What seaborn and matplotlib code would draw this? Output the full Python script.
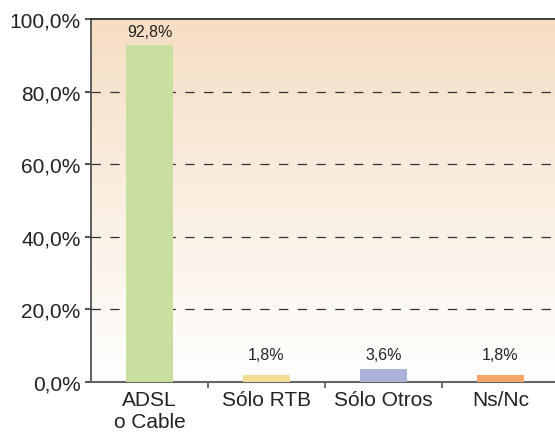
import numpy as np
import pandas as pd
import matplotlib
matplotlib.use("Agg")
import matplotlib.pyplot as plt
from matplotlib.colors import LinearSegmentedColormap
from matplotlib.ticker import FixedLocator
import seaborn as sns

categories = ["ADSL\no Cable", "Sólo RTB", "Sólo Otros", "Ns/Nc"]
values = [92.8, 1.8, 3.6, 1.8]
bar_colors = ["#C9DFA0", "#F2DC96", "#A9B3D9", "#F7A66A"]
y_ticks = [0, 20, 40, 60, 80, 100]


def pct(v):
    return f"{v:.1f}%".replace(".", ",")


def main():
    sns.set_style("white")
    plt.rcParams["font.family"] = ["Liberation Sans", "DejaVu Sans"]

    df = pd.DataFrame({"categoria": categories, "valor": values})

    fig = plt.figure(figsize=(5.55, 4.39), dpi=100)
    ax = fig.add_axes([0.164, 0.1276, 0.836, 0.8268])

    # background gradient, peach at the top fading to white
    cmap = LinearSegmentedColormap.from_list("bg", ["#FFFFFF", "#F5DEC3"])
    grad = np.linspace(0, 1, 256).reshape(-1, 1)
    ax.imshow(grad, extent=[-0.5, 3.466, 0, 100], origin="lower", cmap=cmap,
              aspect="auto", zorder=0)

    sns.barplot(data=df, x="categoria", y="valor", hue="categoria",
                palette=bar_colors, width=0.4, legend=False, ax=ax,
                saturation=1, linewidth=0, zorder=3)

    # value labels: small bars get their label lifted to a common height
    for i, v in enumerate(values):
        ax.text(i, max(v + 3.8, 7.7), pct(v), ha="center", va="center",
                fontsize=11.5, color="#222222", zorder=4)

    ax.set_xlim(-0.5, 3.466)
    ax.set_ylim(0, 100)
    ax.set_yticks(y_ticks)
    ax.set_yticklabels([pct(t) for t in y_ticks])
    ax.set_xlabel("")
    ax.set_ylabel("")

    for t in [20, 40, 60, 80]:
        ax.axhline(t, color="#333333", linewidth=0.9, linestyle=(0, (7.5, 7.5)),
                   zorder=2)

    ax.xaxis.set_minor_locator(FixedLocator([0.5, 1.5, 2.5]))
    ax.tick_params(axis="x", which="major", length=0, labelsize=15,
                   pad=6, labelcolor="#222222")
    ax.tick_params(axis="x", which="minor", length=4, width=1.2,
                   direction="out", color="#555555", bottom=True)
    ax.tick_params(axis="y", length=4, width=1.2, direction="out",
                   color="#333333", labelsize=15, labelcolor="#222222", left=True)

    ax.spines["right"].set_visible(False)
    ax.spines["top"].set_color("#222222")
    ax.spines["top"].set_linewidth(1.2)
    ax.spines["left"].set_color("#444444")
    ax.spines["left"].set_linewidth(1.2)
    ax.spines["bottom"].set_color("#666666")
    ax.spines["bottom"].set_linewidth(1.5)

    fig.savefig("out.png", dpi=100)
    plt.close(fig)


if __name__ == "__main__":
    main()
